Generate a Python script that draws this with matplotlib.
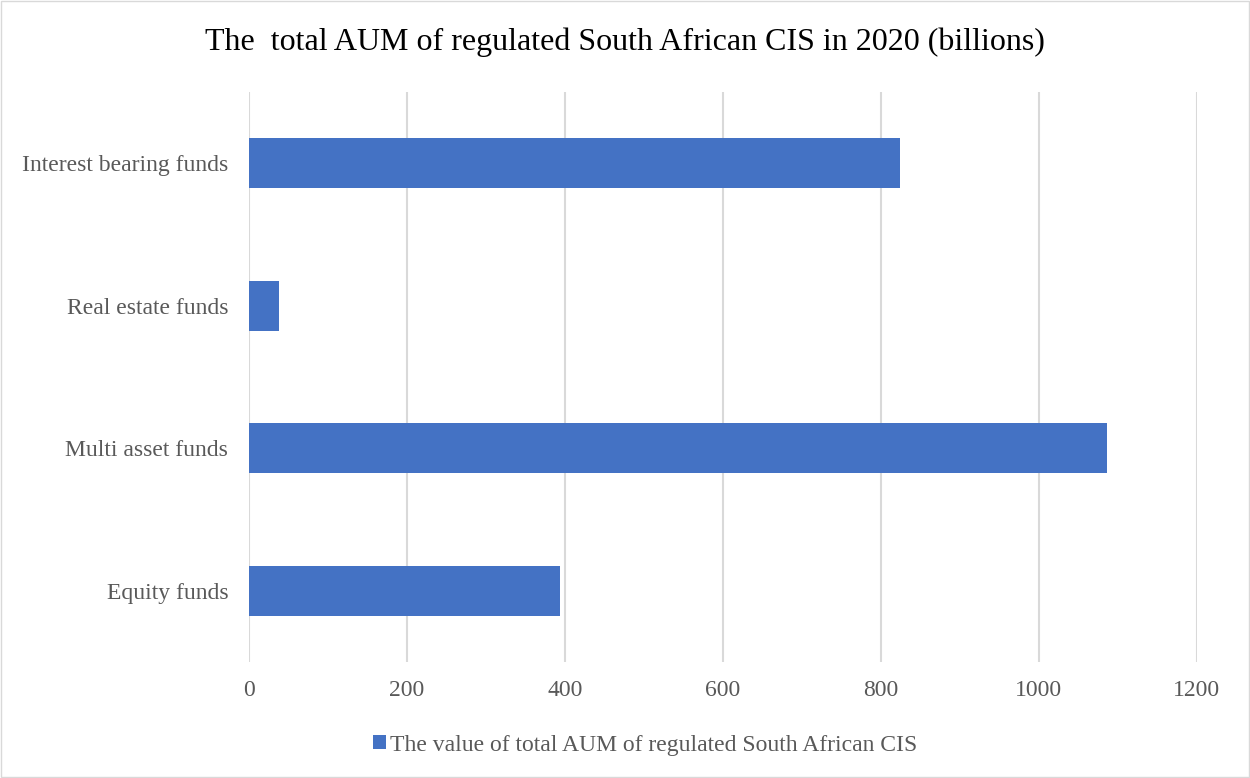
import matplotlib.pyplot as plt
from matplotlib.patches import Rectangle

plt.rcParams['font.family'] = ['Liberation Serif', 'DejaVu Serif']

categories = ["Equity funds", "Multi asset funds", "Real estate funds", "Interest bearing funds"]
values = [394, 1087, 37.6, 824]
series_name = "The value of total AUM of regulated South African CIS"
title = "The  total AUM of regulated South African CIS in 2020 (billions)"

fig = plt.figure(figsize=(12.5, 7.78), dpi=100)
ax = fig.add_axes([249 / 1250, 1 - 662 / 778, (1196.7 - 249) / 1250, (662 - 92) / 778])

ax.barh(categories, values, height=0.35, color="#4472C4", label=series_name, zorder=3)
ax.set_xlim(0, 1200)
ax.set_ylim(-0.5, 3.5)
ax.set_xticks(range(0, 1201, 200))
ax.grid(axis="x", color="#D9D9D9", linewidth=1.5, zorder=0)
for s in ax.spines.values():
    s.set_visible(False)
ax.tick_params(length=0, labelsize=17, colors="#595959", pad=15)
ax.tick_params(axis="x", pad=13)

fig.suptitle(title, y=1 - 42 / 778, fontsize=23, color="black", va="center")
fig.legend(loc="center", bbox_to_anchor=(0.516, 1 - 745 / 778), frameon=False,
           fontsize=17, labelcolor="#595959", handlelength=0.55, handleheight=0.55,
           handletextpad=0.2)

fig.patches.append(Rectangle((0.001, 0.001), 0.998, 0.998, transform=fig.transFigure,
                             fill=False, edgecolor="#D9D9D9", linewidth=1))

fig.savefig("out.png", dpi=100)
